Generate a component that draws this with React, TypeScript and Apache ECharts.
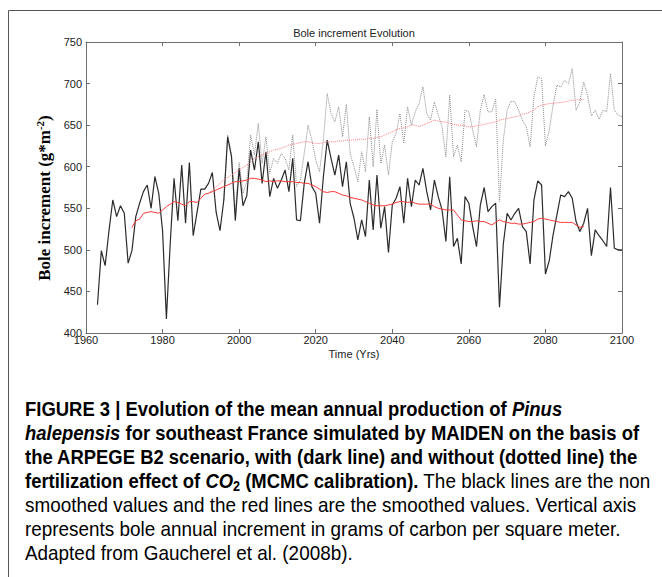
import { useEffect, useRef } from "react";
import * as echarts from "echarts";

// ---- Data ----
const xTickInterval = 20;
const yTickInterval = 50;

// Non-smoothed, with CO2 fertilization (dark line), yearly from 1963
const blackStart = 1963;
const blackValues = [
  434, 499, 481, 523, 560, 540, 553, 544, 484, 499,
  540, 556, 570, 578, 550, 588, 568, 523, 417, 508,
  586, 535, 602, 532, 605, 517, 545, 573, 573, 580,
  593, 545, 523, 560, 636, 612, 535, 598, 553, 565,
  620, 596, 630, 580, 618, 564, 586, 574, 584, 596,
  570, 610, 536, 535, 580, 606, 576, 568, 532, 588,
  632, 610, 590, 614, 576, 606, 556, 538, 512, 536,
  516, 584, 524, 590, 526, 552, 497, 554, 562, 576,
  532, 586, 552, 584, 578, 598, 570, 548, 584, 564,
  548, 510, 588, 504, 514, 483, 564, 556, 528, 504,
  554, 575, 546, 552, 556, 431, 507, 544, 536, 544,
  550, 528, 522, 483, 560, 583, 578, 471, 487, 518,
  542, 566, 564, 570, 562, 534, 522, 532, 550, 493,
  524, 517, 511, 504, 575, 502, 500, 500,
];

// Non-smoothed, without CO2 fertilization (dotted line), yearly from 1996
const dottedStart = 1996;
const dottedValues = [
  560, 638, 614, 545, 605, 568, 582, 638, 614, 652,
  604, 636, 592, 610, 604, 616, 610, 596, 638, 576,
  584, 616, 650, 632, 608, 594, 632, 688, 664, 654,
  672, 636, 675, 616, 600, 582, 618, 594, 660, 600,
  669, 604, 626, 590, 630, 640, 664, 628, 672, 650,
  666, 676, 696, 664, 656, 678, 662, 648, 612, 686,
  612, 626, 606, 668, 666, 644, 624, 668, 687, 666,
  666, 682, 558, 632, 668, 679, 678, 668, 656, 648,
  624, 684, 708, 706, 625, 644, 674, 698, 696, 704,
  700, 718, 668, 678, 702, 686, 661, 668, 657, 668,
  666, 712, 668, 662, 660,
];

// Smoothed, with CO2 (red solid), yearly from 1972
const redStart = 1972;
const redValues = [
  527, 535, 537, 544, 545, 546, 545, 544, 548, 552,
  555, 558, 557, 555, 553, 558, 558, 557, 562, 567,
  568, 570, 572, 574, 576, 578, 580, 582, 582, 583,
  584, 586, 586, 585, 584, 582, 583, 582, 583, 583,
  582, 582, 582, 581, 581, 580, 580, 578, 576, 573,
  570, 569, 570, 570, 568, 566, 565, 563, 562, 561,
  560, 558, 556, 554, 553, 553, 553, 554, 555, 557,
  558, 558, 557, 558, 556, 555, 555, 555, 555, 552,
  550, 549, 548, 548, 548, 542, 536, 535, 534, 534,
  535, 534, 534, 532, 530, 533, 536, 534, 533, 532,
  532, 531, 531, 532, 533, 534, 537, 538, 537, 536,
  535, 534, 533, 533, 533, 533, 530, 527, 528,
];

// Smoothed, without CO2 (red dotted), yearly from 1992
const pinkStart = 1992;
const pinkValues = [
  568, 572, 576, 580, 584, 587, 590, 593, 596, 599,
  602, 605, 610, 612, 614, 616, 618, 620, 621, 622,
  624, 626, 627, 628, 629, 630, 630, 629, 628, 628,
  629, 630, 630, 630, 631, 631, 632, 632, 632, 633,
  633, 633, 634, 634, 635, 636, 638, 640, 642, 644,
  646, 647, 648, 650, 650, 648, 650, 652, 654, 656,
  655, 654, 654, 652, 651, 650, 650, 649, 648, 648,
  649, 650, 651, 652, 653, 654, 656, 657, 658, 659,
  660, 661, 663, 664, 666, 668, 672, 674, 675, 676,
  676, 677, 677, 678, 679, 680, 680, 681, 681,
];

const toPairs = (start: number, vals: number[]) => vals.map((v, i) => [start + i, v]);

const AX = "'Liberation Sans', Arial, Helvetica, sans-serif";
const CAP = "'Liberation Sans', Arial, Helvetica, sans-serif";
const SERIF = "'Liberation Serif', 'Times New Roman', serif";

const captionLines = [
  "{b|FIGURE 3 | Evolution of the mean annual production of }{bi|Pinus}",
  "{bi|halepensis}{b| for southeast France simulated by MAIDEN on the basis of}",
  "{b|the ARPEGE B2 scenario, with (dark line) and without (dotted line) the}",
  "{b|fertilization effect of }{bi|CO}{bs|2}{b| (MCMC calibration).}{r| The black lines are the non}",
  "{r|smoothed values and the red lines are the smoothed values. Vertical axis}",
  "{r|represents bole annual increment in grams of carbon per square meter.}",
  "{r|Adapted from }{l|Gaucherel et al. (2008b)}{r|.}",
];

const B_SIZE = 20.5;
const R_SIZE = 21;
const capRich = {
  b: { fontFamily: CAP, fontSize: B_SIZE, fontWeight: "bold", color: "#1a1a1a", lineHeight: 24 },
  bi: { fontFamily: CAP, fontSize: B_SIZE, fontWeight: "bold", fontStyle: "italic", color: "#1a1a1a", lineHeight: 24 },
  bs: { fontFamily: CAP, fontSize: 14, fontWeight: "bold", color: "#1a1a1a", lineHeight: 15, verticalAlign: "bottom" },
  r: { fontFamily: CAP, fontSize: R_SIZE, color: "#3a3a3a", lineHeight: 24 },
  l: { fontFamily: CAP, fontSize: R_SIZE, color: "#8c8c8c", lineHeight: 24 },
};

export default function App() {
  const ref = useRef<HTMLDivElement>(null);
  useEffect(() => {
    document.body.style.margin = "0";
    const chart = echarts.init(ref.current!, null, { renderer: "svg" });
    const axisColor = "#6e6e6e";
    const captionY0 = 409;
    const captionStep = 24;
    chart.setOption({
      animation: false,
      backgroundColor: "#ffffff",
      title: {
        text: "Bole increment Evolution",
        left: 354,
        top: 27,
        textAlign: "center",
        padding: 0,
        textStyle: { fontSize: 11, fontWeight: "normal", fontFamily: AX, color: "#222" },
      },
      grid: { left: 86, right: 40, top: 42, bottom: 244, containLabel: false },
      xAxis: [
        {
          type: "value",
          min: 1960,
          max: 2100,
          interval: xTickInterval,
          position: "bottom",
          axisLine: { show: true, lineStyle: { color: axisColor, width: 1 } },
          axisTick: { show: true, inside: true, length: 4, lineStyle: { color: axisColor } },
          axisLabel: { fontSize: 11, color: "#222", margin: 1, fontFamily: AX, formatter: (v: number) => String(v) },
          splitLine: { show: false },
          name: "Time (Yrs)",
          nameLocation: "middle",
          nameGap: 13,
          nameMoveOverlap: false,
          nameTextStyle: { fontSize: 11, color: "#222", fontFamily: AX, verticalAlign: "top", padding: [2, 0, 0, 0] },
        },
        {
          type: "value",
          min: 1960,
          max: 2100,
          interval: xTickInterval,
          position: "top",
          axisLine: { show: true, lineStyle: { color: axisColor, width: 1 } },
          axisTick: { show: true, inside: true, length: 4, lineStyle: { color: axisColor } },
          axisLabel: { show: false },
          splitLine: { show: false },
        },
      ],
      yAxis: [
        {
          type: "value",
          min: 400,
          max: 750,
          interval: yTickInterval,
          position: "left",
          axisLine: { show: true, lineStyle: { color: axisColor, width: 1 } },
          axisTick: { show: true, inside: true, length: 4, lineStyle: { color: axisColor } },
          axisLabel: { fontSize: 11, color: "#222", margin: 4, fontFamily: AX },
          splitLine: { show: false },
        },
        {
          type: "value",
          min: 400,
          max: 750,
          interval: yTickInterval,
          position: "right",
          axisLine: { show: true, lineStyle: { color: axisColor, width: 1 } },
          axisTick: { show: true, inside: true, length: 4, lineStyle: { color: axisColor } },
          axisLabel: { show: false },
          splitLine: { show: false },
        },
      ],
      series: [
        {
          name: "Without CO2 (non smoothed)",
          type: "line",
          data: toPairs(dottedStart, dottedValues),
          symbol: "none",
          lineStyle: { color: "#8a8a8a", width: 1, type: "dotted" },
        },
        {
          name: "With CO2 (non smoothed)",
          type: "line",
          data: toPairs(blackStart, blackValues),
          symbol: "none",
          lineStyle: { color: "#2b2b2b", width: 1.2 },
        },
        {
          name: "Without CO2 (smoothed)",
          type: "line",
          data: toPairs(pinkStart, pinkValues),
          symbol: "none",
          lineStyle: { color: "#ff7a7a", width: 1, type: "dotted" },
        },
        {
          name: "With CO2 (smoothed)",
          type: "line",
          data: toPairs(redStart, redValues),
          symbol: "none",
          lineStyle: { color: "#ff3838", width: 1 },
        },
      ],
      graphic: [
        { type: "line", shape: { x1: 8.5, y1: 10.5, x2: 662, y2: 10.5 }, style: { stroke: "#555", lineWidth: 1 } },
        { type: "line", shape: { x1: 8.5, y1: 10.5, x2: 8.5, y2: 577 }, style: { stroke: "#555", lineWidth: 1 } },
        {
          type: "text",
          x: 44,
          y: 198,
          rotation: Math.PI / 2,
          style: {
            text: "{n|Bole increment (g*m}{s|-2}{n|)}",
            align: "center",
            verticalAlign: "middle",
            rich: {
              n: { fontFamily: SERIF, fontSize: 17, fontWeight: "bold", color: "#111", lineHeight: 20 },
              s: { fontFamily: SERIF, fontSize: 11, fontWeight: "bold", color: "#111", lineHeight: 11, verticalAlign: "top" },
            },
          },
        },
        ...captionLines.map((t, i) => ({
          type: "text",
          x: 25,
          y: captionY0 + i * captionStep,
          scaleX: 0.9,
          style: { text: t, align: "left", verticalAlign: "middle", rich: capRich },
        })),
      ],
    });
    return () => chart.dispose();
  }, []);
  return <div ref={ref} style={{ width: 662, height: 577, background: "#fff" }} />;
}
